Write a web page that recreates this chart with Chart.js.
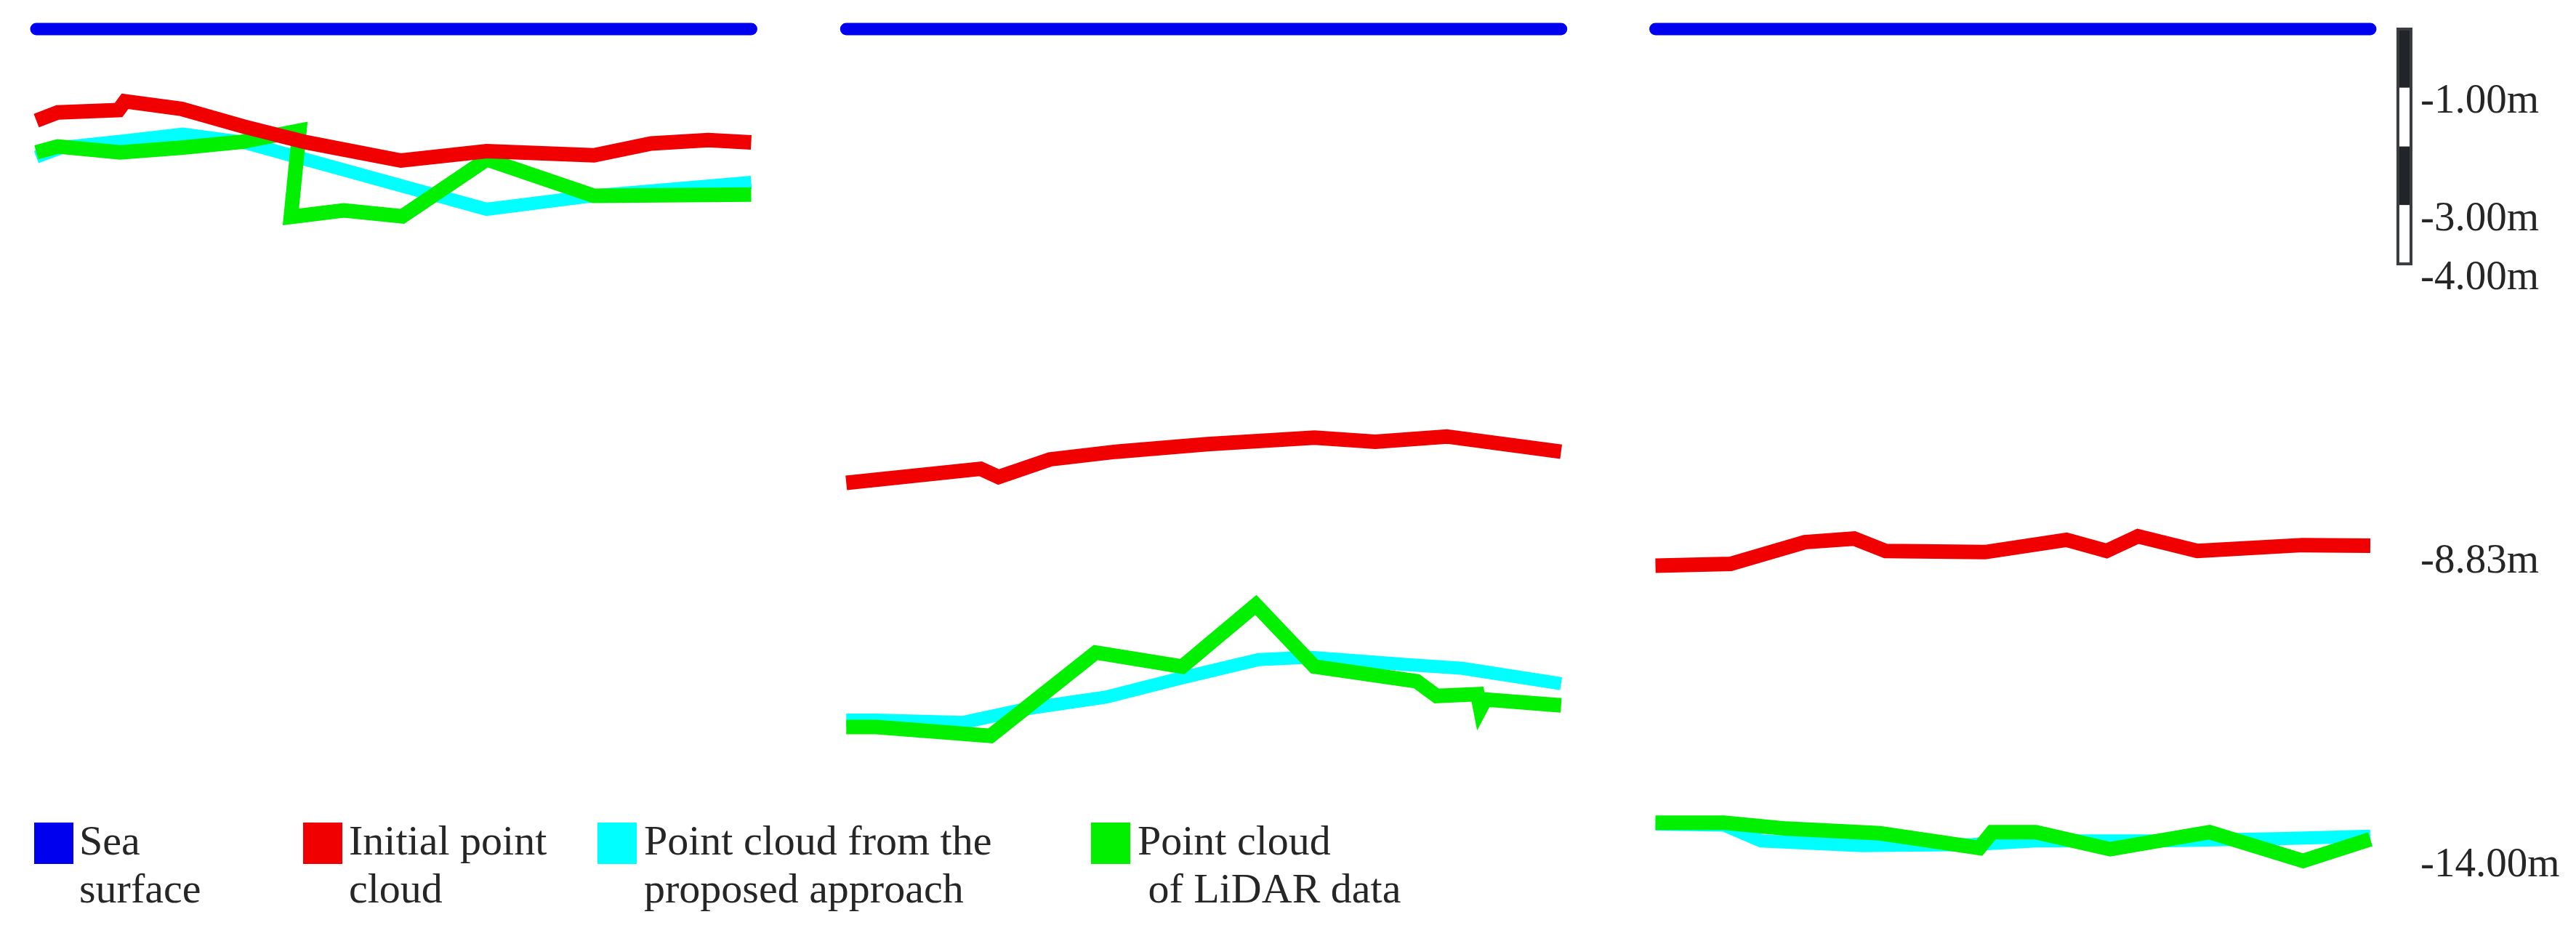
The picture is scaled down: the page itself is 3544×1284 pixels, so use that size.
<!DOCTYPE html>
<html>
<head>
<meta charset="utf-8">
<script src="https://cdn.jsdelivr.net/npm/chart.js@4/dist/chart.umd.min.js"></script>
<style>
  html, body { margin: 0; padding: 0; background: #ffffff; }
  #wrap { position: relative; width: 3544px; height: 1284px; overflow: hidden; background: #ffffff; }
  #c { position: absolute; left: 0; top: 0; }
  .lg-text { position: absolute; font-family: "Liberation Serif", "Times New Roman", serif; font-size: 58px; line-height: 66px; color: #262626; white-space: pre; }
  .lg-swatch { position: absolute; width: 54px; height: 57px; }
</style>
</head>
<body>
<div id="wrap">
  <canvas id="c" width="3544" height="1284"></canvas>
</div>
<script>
// ---------------- DATA (local profile distance 0..100, elevation in m) ----------------
const seriesNames = ["Sea\nsurface", "Initial point\ncloud", "Point cloud from the\nproposed approach", "Point cloud\n of LiDAR data"];

const seaSurface1 = [[0, 0], [100, 0]];
const seaSurface2 = [[0, 0], [100, 0]];
const seaSurface3 = [[0, 0], [100, 0]];

const initial1 = [[0,-1.56],[3,-1.42],[11.5,-1.38],[12.4,-1.23],[20.3,-1.36],[29,-1.66],[37.8,-1.93],[51,-2.24],[63,-2.08],[78,-2.15],[86,-1.95],[94,-1.89],[100,-1.93]];
const proposed1 = [[0,-2.18],[3.5,-2.02],[12,-1.91],[20.5,-1.79],[29,-1.93],[63,-3.07],[78,-2.84],[100,-2.61]];
const lidar1 = [[0,-2.10],[3,-2.0],[11.7,-2.1],[20.3,-2.02],[28.8,-1.92],[36.8,-1.73],[35.6,-3.2],[43,-3.09],[51.2,-3.19],[63,-2.22],[78,-2.84],[100,-2.82]];

const initial2 = [[0,-7.73],[18.8,-7.49],[21.3,-7.63],[28.5,-7.33],[37.7,-7.2],[50.5,-7.07],[65.5,-6.96],[74,-7.03],[84,-6.94],[100,-7.2]];
const proposed2 = [[0,-11.77],[4.2,-11.77],[16.4,-11.81],[25.6,-11.57],[36.3,-11.38],[47,-11.05],[57.7,-10.74],[64.8,-10.7],[79,-10.83],[86.2,-10.89],[100,-11.15]];
const lidar2 = [[0,-11.89],[4.2,-11.89],[20.2,-12.04],[34.9,-10.62],[47,-10.86],[57.3,-9.81],[65.5,-10.86],[79.8,-11.11],[82.6,-11.36],[88.3,-11.33],[88.7,-11.58],[89.4,-11.42],[100,-11.52]];

const initial3 = [[0,-9.14],[10.5,-9.11],[20.9,-8.74],[27.8,-8.68],[32.2,-8.89],[46.1,-8.91],[57.5,-8.7],[63.1,-8.89],[67.5,-8.64],[75.8,-8.89],[90.5,-8.79],[100,-8.8]];
const proposed3 = [[0,-13.54],[9.6,-13.56],[14.8,-13.83],[28.8,-13.91],[44.4,-13.89],[53.2,-13.83],[70.5,-13.83],[88,-13.79],[100,-13.75]];
const lidar3 = [[0,-13.52],[9.6,-13.52],[18.3,-13.62],[31.4,-13.7],[45.3,-13.95],[47.1,-13.68],[53.2,-13.68],[63.6,-13.97],[77.5,-13.68],[90.6,-14.17],[100,-13.8]];

const depthTicks = [-1, -3, -4, -8.83, -14];
const scaleBarMeters = 4;

// ---------------- LAYOUT / STYLE ----------------
const panelOffsets = [0, 113.3, 226.5];
const colors = { sea: "#0000ee", initial: "#f00000", proposed: "#00ffff", lidar: "#00f000" };
const textColor = "#262626";
const legendLayout = [
  { swatchX: 47, textX: 109 },
  { swatchX: 417, textX: 480 },
  { swatchX: 822, textX: 886 },
  { swatchX: 1501, textX: 1565 }
];
const legendColors = [colors.sea, colors.initial, colors.proposed, colors.lidar];

function joinPanels(panels) {
  const out = [];
  panels.forEach((pts, i) => {
    if (i > 0) out.push({ x: panelOffsets[i] - 6, y: null });
    pts.forEach(p => out.push({ x: p[0] + panelOffsets[i], y: p[1] }));
  });
  return out;
}

const scaleBarPlugin = {
  id: "scaleBar",
  afterDatasetsDraw(chart) {
    const ys = chart.scales.y;
    const ctx = chart.ctx;
    const x0 = chart.chartArea.right + 38;
    const w = 18;
    ctx.save();
    for (let i = 0; i < scaleBarMeters; i++) {
      const t = ys.getPixelForValue(-i);
      const b = ys.getPixelForValue(-(i + 1));
      ctx.fillStyle = (i % 2 === 0) ? "#212529" : "#ffffff";
      ctx.fillRect(x0, t, w, b - t);
    }
    const top = ys.getPixelForValue(0);
    const bot = ys.getPixelForValue(-scaleBarMeters);
    ctx.strokeStyle = "#3a3d40";
    ctx.lineWidth = 4;
    ctx.strokeRect(x0, top, w, bot - top);
    ctx.restore();
  }
};

const lineBase = { pointRadius: 0, pointHoverRadius: 0, fill: false, clip: false, spanGaps: false, tension: 0, borderJoinStyle: "miter" };

new Chart(document.getElementById("c"), {
  type: "line",
  data: {
    datasets: [
      Object.assign({ label: "Sea surface", data: joinPanels([seaSurface1, seaSurface2, seaSurface3]), borderColor: colors.sea, borderWidth: 17, borderCapStyle: "round" }, lineBase),
      Object.assign({ label: "Initial point cloud", data: joinPanels([initial1, initial2, initial3]), borderColor: colors.initial, borderWidth: 20, borderCapStyle: "butt" }, lineBase),
      Object.assign({ label: "Point cloud of LiDAR data", data: joinPanels([lidar1, lidar2, lidar3]), borderColor: colors.lidar, borderWidth: 20, borderCapStyle: "butt" }, lineBase),
      Object.assign({ label: "Point cloud from the proposed approach", data: joinPanels([proposed1, proposed2, proposed3]), borderColor: colors.proposed, borderWidth: 18, borderCapStyle: "butt" }, lineBase)
    ]
  },
  options: {
    responsive: false,
    devicePixelRatio: 1,
    animation: false,
    events: [],
    layout: { padding: { left: 50, top: 40, right: 0, bottom: 16 } },
    plugins: { legend: { display: false }, tooltip: { enabled: false } },
    scales: {
      x: { type: "linear", min: 0, max: 326.5, display: false },
      y: {
        type: "linear", position: "right", min: -15.2, max: 0,
        afterBuildTicks: ax => { ax.ticks = depthTicks.map(v => ({ value: v })); },
        afterFit: ax => { ax.width = 283; ax.paddingTop = 0; ax.paddingBottom = 0; },
        grid: { display: false, drawTicks: false },
        border: { display: false },
        ticks: {
          autoSkip: false, padding: 69, labelOffset: 19.5, color: textColor,
          font: { family: '"Liberation Serif", "Times New Roman", serif', size: 57 },
          callback: v => Number(v).toFixed(2) + "m"
        }
      }
    }
  },
  plugins: [scaleBarPlugin]
});

// ---------------- HTML legend ----------------
const wrap = document.getElementById("wrap");
seriesNames.forEach((name, i) => {
  const sw = document.createElement("div");
  sw.className = "lg-swatch";
  sw.style.left = legendLayout[i].swatchX + "px";
  sw.style.top = "1132px";
  sw.style.background = legendColors[i];
  wrap.appendChild(sw);
  const tx = document.createElement("div");
  tx.className = "lg-text";
  tx.style.left = legendLayout[i].textX + "px";
  tx.style.top = "1124px";
  tx.textContent = name;
  wrap.appendChild(tx);
});
</script>
</body>
</html>
